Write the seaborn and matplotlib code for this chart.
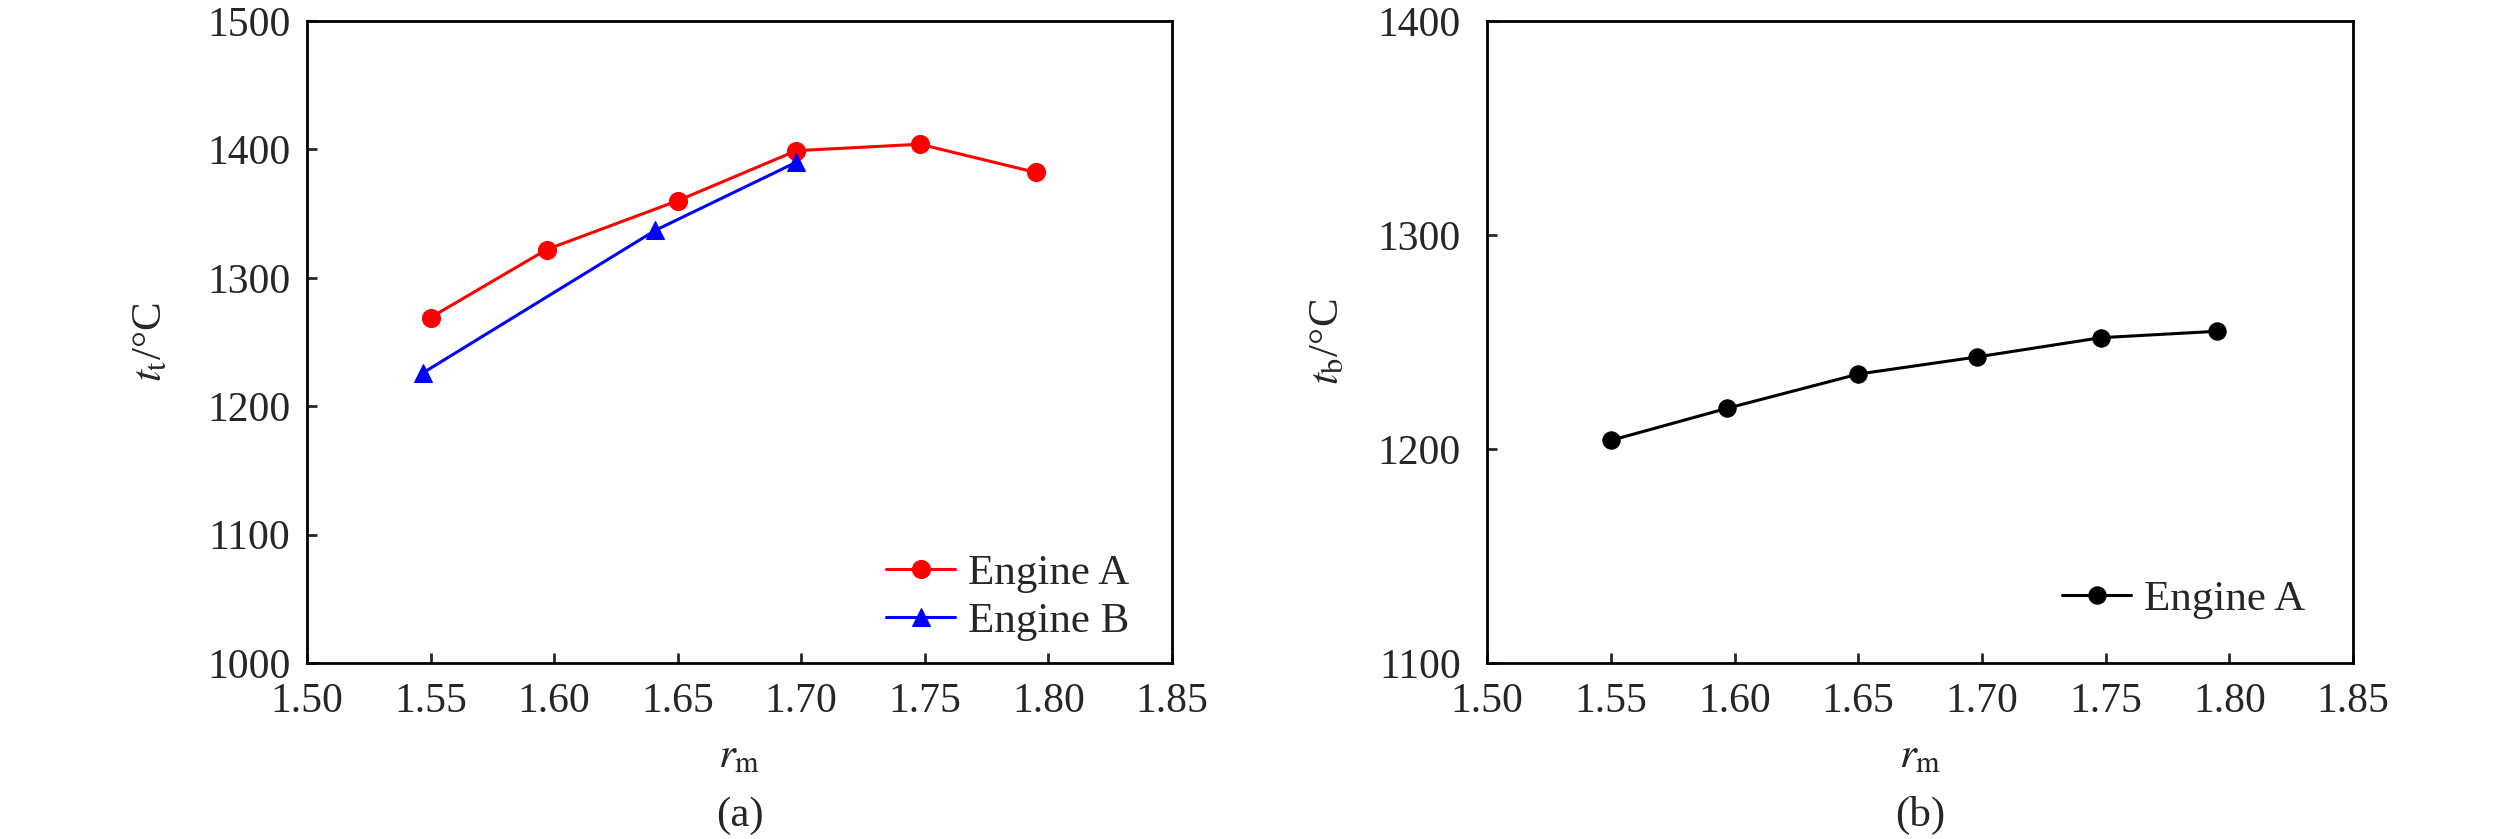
import seaborn as sns
import matplotlib.pyplot as plt
import pandas as pd
import numpy as np

sns.set_style("ticks")
plt.rcParams["font.family"] = ["Liberation Serif", "DejaVu Serif"]
plt.rcParams["mathtext.fontset"] = "stix"

# data
rm_a = [1.550, 1.597, 1.650, 1.698, 1.748, 1.795]
tt_a = [1269, 1322, 1360, 1399, 1404, 1382]
rm_b = [1.547, 1.641, 1.698]
tt_b = [1226, 1337, 1390]
tb_a = [1204, 1219, 1235, 1243, 1252, 1255]

x_ticks = [1.50, 1.55, 1.60, 1.65, 1.70, 1.75, 1.80, 1.85]

fig = plt.figure(figsize=(25.2, 8.39), dpi=100)
ax1 = fig.add_axes([0.1218, 0.2098, 0.3433, 0.7652])
ax2 = fig.add_axes([0.5901, 0.2098, 0.3437, 0.7652])

# (a) t_t
sns.lineplot(x=rm_a, y=tt_a, ax=ax1, color="#ff0000", marker="o", markersize=13,
             markeredgecolor="#ff0000", linewidth=2.2, label="Engine A")
sns.lineplot(x=rm_b, y=tt_b, ax=ax1, color="#0000ff", marker="^", markersize=13,
             markeredgecolor="#0000ff", linewidth=2.2, label="Engine B")
ax1.set_ylim(1000, 1500)
ax1.set_yticks([1000, 1100, 1200, 1300, 1400, 1500])
ax1.set_ylabel(r"$t_{\mathrm{t}}$/°C", fontsize=31, labelpad=26)
ax1.tick_params(axis="y", pad=12)

# (b) t_b
sns.lineplot(x=rm_a, y=tb_a, ax=ax2, color="black", marker="o", markersize=12.5,
             markeredgecolor="black", linewidth=2.2, label="Engine A")
ax2.set_ylim(1100, 1400)
ax2.set_yticks([1100, 1200, 1300, 1400])
ax2.set_ylabel(r"$t_{\mathrm{b}}$/°C", fontsize=31, labelpad=22)
ax2.tick_params(axis="y", pad=19)

for ax, tag, anchor in [(ax1, "(a)", (0.951, 0.034)), (ax2, "(b)", (0.9446, 0.0685))]:
    ax.set_xlim(1.50, 1.85)
    ax.set_xticks(x_ticks)
    ax.set_xticklabels([f"{v:.2f}" for v in x_ticks])
    ax.set_xlabel(r"$r_{\mathrm{m}}$", fontsize=31, labelpad=12)
    ax.tick_params(direction="in", length=7, width=2, labelsize=30,
                   top=False, right=False)
    ax.tick_params(axis="x", pad=14)
    for sp in ax.spines.values():
        sp.set_linewidth(2)
        sp.set_color("black")
    ax.legend(loc="lower right", bbox_to_anchor=anchor, frameon=False, fontsize=31,
              handlelength=1.6, borderaxespad=0, borderpad=0, labelspacing=0.2,
              handletextpad=0.3)
    pos = ax.get_position()
    fig.text((pos.x0 + pos.x1) / 2, 0.005, tag, ha="center", va="bottom", fontsize=31)

fig.savefig("out.png", dpi=100)
